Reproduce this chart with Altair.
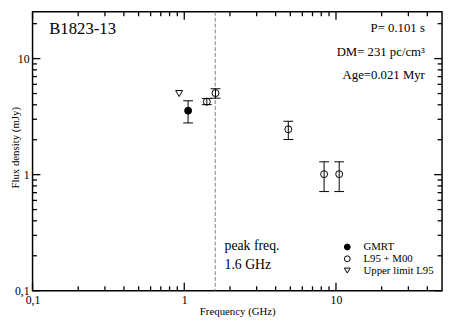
import altair as alt
import pandas as pd

# ---- data ----
freq = [1.06, 0.925, 1.408, 1.606, 4.85, 8.35, 10.5]
flux = [3.56, 5.0, 4.25, 5.04, 2.46, 1.01, 1.01]
err_lo = [2.79, None, 4.01, 4.56, 2.01, 0.715, 0.715]
err_hi = [4.33, None, 4.54, 5.5, 2.88, 1.29, 1.29]
source = ["GMRT", "Upper limit L95", "L95 + M00", "L95 + M00",
          "L95 + M00", "L95 + M00", "L95 + M00"]
legend_order = ["GMRT", "L95 + M00", "Upper limit L95"]
legend_shapes = ["circle", "circle", "triangle-down"]
legend_fills = ["black", "transparent", "transparent"]
legend_strokes = ["black", "black", "black"]
peak_freq = 1.6

x_major = [0.1, 1, 10]
x_minor = [0.2, 0.3, 0.4, 0.5, 0.6, 0.7, 0.8, 0.9,
           2, 3, 4, 5, 6, 7, 8, 9, 20, 30, 40]
y_major = [0.1, 1, 10]
y_minor = [0.2, 0.3, 0.4, 0.5, 0.6, 0.7, 0.8, 0.9,
           2, 3, 4, 5, 6, 7, 8, 9, 20]

pulsar_name = "B1823-13"
info_lines = ["P= 0.101 s", "DM= 231 pc/cm³", "Age=0.021 Myr"]
peak_lines = ["peak freq.", "1.6 GHz"]

df = pd.DataFrame({"f": freq, "s": flux, "lo": err_lo, "hi": err_hi, "src": source})

FONT = "Liberation Serif"
W, H = 417, 284
MAJOR, MINOR = 8, 4.5
TICK_W = 1.3
xs = alt.Scale(type="log", domain=[0.1, 50], nice=False)
ys = alt.Scale(type="log", domain=[0.1, 25.3], nice=False)

LABEL = "replace(format(datum.value, '~g'), '.', ',')"

main_x = alt.Axis(orient="bottom", values=x_major, ticks=False, domain=False, grid=False,
                  labelFlush=False, labelOverlap=False, labelBound=False, labelPadding=4,
                  labelFontSize=12, labelColor="black", labelExpr=LABEL,
                  title="Frequency (GHz)", titleFontSize=11, titleFontWeight="normal",
                  titleColor="black", titleBaseline="alphabetic", titleY=24.5)
main_y = alt.Axis(orient="left", values=y_major, ticks=False, domain=False, grid=False,
                  labelFlush=False, labelOverlap=False, labelBound=False, labelPadding=3.5,
                  labelFontSize=12, labelColor="black", labelExpr=LABEL,
                  title="Flux  density (mJy)", titleFontSize=11, titleFontWeight="normal",
                  titleColor="black", titleX=-17, titleY=138, titleBaseline="middle")

shape_legend = alt.Legend(title=None, orient="none", legendX=315, legendY=234,
                          labelFont=FONT, labelFontSize=11, labelColor="black",
                          labelOffset=11, rowPadding=0, padding=0,
                          symbolSize=35, symbolStrokeWidth=1, symbolOpacity=1)

points = alt.Chart(df).mark_point(filled=False, strokeWidth=1, size=50, opacity=1).encode(
    x=alt.X("f:Q", scale=xs, axis=main_x),
    y=alt.Y("s:Q", scale=ys, axis=main_y),
    shape=alt.Shape("src:N", scale=alt.Scale(domain=legend_order, range=legend_shapes),
                    legend=shape_legend),
    fill=alt.Fill("src:N", scale=alt.Scale(domain=legend_order, range=legend_fills),
                  legend=shape_legend),
    stroke=alt.Stroke("src:N", scale=alt.Scale(domain=legend_order, range=legend_strokes),
                      legend=shape_legend),
)

bars = alt.Chart(df).mark_rule(color="black", strokeWidth=1).encode(
    x=alt.X("f:Q", scale=xs),
    y=alt.Y("lo:Q", scale=ys),
    y2="hi:Q",
)
cap_hi = alt.Chart(df).mark_tick(orient="horizontal", size=10, thickness=1,
                                 color="black", opacity=1).encode(
    x=alt.X("f:Q", scale=xs),
    y=alt.Y("hi:Q", scale=ys),
)
cap_lo = alt.Chart(df).mark_tick(orient="horizontal", size=10, thickness=1,
                                 color="black", opacity=1).encode(
    x=alt.X("f:Q", scale=xs),
    y=alt.Y("lo:Q", scale=ys),
)

peak_rule = alt.Chart(pd.DataFrame({"p": [peak_freq]})).mark_rule(
    color="#808080", strokeWidth=1, strokeDash=[4, 2]).encode(
    x=alt.X("p:Q", scale=xs),
)


# inward axis ticks on all four sides of the frame, placed by the scales
def x_ticks(values, size):
    d = pd.DataFrame({"v": values})
    base = alt.Chart(d).mark_rule(color="black", strokeWidth=TICK_W)
    xe = alt.X("v:Q", scale=xs)
    return [base.encode(x=xe, y=alt.value(0), y2=alt.value(size)),
            base.encode(x=xe, y=alt.value(H - size), y2=alt.value(H))]


def y_ticks(values, size):
    d = pd.DataFrame({"v": values})
    base = alt.Chart(d).mark_rule(color="black", strokeWidth=TICK_W)
    ye = alt.Y("v:Q", scale=ys)
    return [base.encode(y=ye, x=alt.value(0), x2=alt.value(size)),
            base.encode(y=ye, x=alt.value(W - size), x2=alt.value(W))]


tick_layers = (x_ticks(x_major, MAJOR) + x_ticks(x_minor, MINOR)
               + y_ticks(y_major, MAJOR) + y_ticks(y_minor, MINOR))

name_text = alt.Chart(pd.DataFrame({"t": [pulsar_name]})).mark_text(
    font=FONT, fontSize=17, align="left", baseline="alphabetic", color="black").encode(
    x=alt.value(17), y=alt.value(23), text="t:N")

info_text = alt.Chart(pd.DataFrame({"t": [0]})).mark_text(
    font=FONT, fontSize=13, align="right", baseline="alphabetic", color="black",
    lineHeight=23.8).encode(
    x=alt.value(399.5), y=alt.value(21), text=alt.value(info_lines))

peak_text = alt.Chart(pd.DataFrame({"t": [0]})).mark_text(
    font=FONT, fontSize=14, align="left", baseline="alphabetic", color="black",
    lineHeight=19).encode(
    x=alt.value(195.5), y=alt.value(242.7), text=alt.value(peak_lines))

chart = alt.layer(
    points, peak_rule, bars, cap_hi, cap_lo, *tick_layers, name_text, info_text, peak_text
).properties(
    width=W, height=H,
    autosize=alt.AutoSizeParams(type="none"),
    padding={"left": 25, "top": 1, "right": 2, "bottom": 30},
).configure(font=FONT).configure_view(stroke="black", strokeWidth=1.5)

chart.save("out.html", embed_options={"renderer": "svg", "actions": False})
